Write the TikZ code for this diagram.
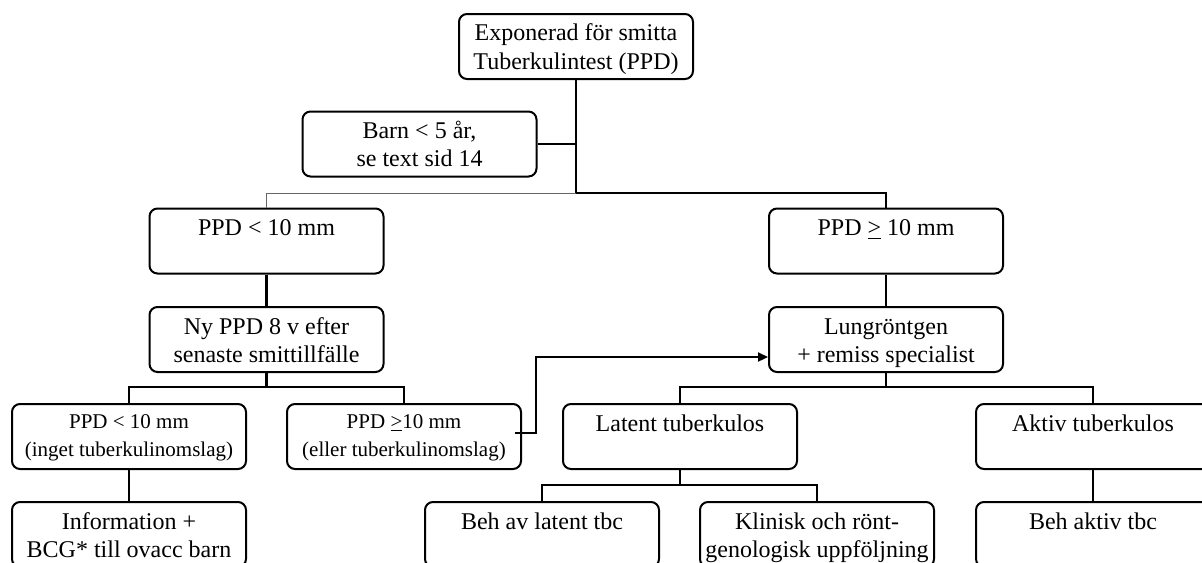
\documentclass[tikz,border=0pt]{standalone}
\usepackage{fontspec}
\setmainfont{Liberation Serif}
\usetikzlibrary{arrows.meta}
\newcommand\bigtext[1]{\parbox[c][32.5pt][t]{117pt}{\centering\rule{0pt}{13.5pt}#1}}
\newcommand\smalltext[1]{\parbox[c][32.5pt][t]{117pt}{\centering\rule{0pt}{12pt}#1}}
\tikzset{
  box/.style={draw, line width=1pt, rounded corners=4pt, inner sep=0pt,
    font=\fontsize{12}{14}\selectfont},
  sbox/.style={box, font=\fontsize{10.5}{14}\selectfont},
  conn/.style={line width=1.1pt},
  thinl/.style={line width=0.5pt, draw=black!60},
  arr/.style={conn, -{Triangle[length=5pt,width=4.5pt]}}
}
\begin{document}
\begin{tikzpicture}[x=0.5pt, y=-0.5pt]
\useasboundingbox (0,0) rectangle (1202,562);
% level 0
\node[box] (top) at (576,46.5) {\bigtext{Exponerad för smitta\\Tuberkulintest (PPD)}};
\node[box] (barn) at (419.5,144) {\bigtext{Barn < 5 år,\\se text sid 14}};
% level 1
\node[box] (ppdlt) at (266.5,241) {\bigtext{PPD < 10 mm}};
\node[box] (ppdge) at (886,241) {\bigtext{PPD \underline{>} 10 mm}};
% level 2
\node[box] (ny) at (266.5,339.5) {\bigtext{Ny PPD 8 v efter\\senaste smittillfälle}};
\node[box] (lung) at (886,339.5) {\bigtext{Lungröntgen\\ + remiss specialist}};
% level 3
\node[sbox] (lt2) at (129,436.5) {\smalltext{PPD < 10 mm\\(inget tuberkulinomslag)}};
\node[sbox] (ge2) at (404,436.5) {\smalltext{PPD \underline{>}10 mm\\(eller tuberkulinomslag)}};
\node[box] (latent) at (680,436.5) {\bigtext{Latent tuberkulos}};
\node[box] (aktiv) at (1093,436.5) {\bigtext{Aktiv tuberkulos}};
% level 4
\node[box] (info) at (129,534.5) {\bigtext{Information +\\BCG* till ovacc barn}};
\node[box] (behlat) at (542,534.5) {\bigtext{Beh av latent tbc}};
\node[box] (klin) at (817,534.5) {\bigtext{Klinisk och rönt-\\genologisk uppföljning}};
\node[box] (behakt) at (1093,534.5) {\bigtext{Beh aktiv tbc}};
% junctions
\coordinate (j0) at (576,193);
\coordinate (j1) at (266.5,387);
\coordinate (j2) at (886,387);
\coordinate (j3) at (680,485);
% connectors
\draw[conn] (top.south) -- (j0);
\draw[conn] (barn.east) -- (barn.east -| top.south);
\draw[conn] (j0) -| (ppdge.north);
\draw[thinl] (j0) -| (ppdlt.north);
\draw[conn] (ppdlt.south) -- (ny.north);
\draw[conn] (ny.south) -- (j1);
\draw[conn] (lt2.north) |- (j1) -| (ge2.north);
\draw[conn] (lt2.south) -- (info.north);
\draw[conn] (ppdge.south) -- (lung.north);
\draw[conn] (lung.south) -- (j2);
\draw[conn] (latent.north) |- (j2) -| (aktiv.north);
\draw[conn] (latent.south) -- (j3);
\draw[conn] (behlat.north) |- (j3) -| (klin.north);
\draw[conn] (aktiv.south) -- (behakt.north);
\draw[arr] ([shift={(-7,-3.5)}]ge2.east) -- ++(21,0) |- ([shift={(0,17.5)}]lung.west);
\end{tikzpicture}
\end{document}
